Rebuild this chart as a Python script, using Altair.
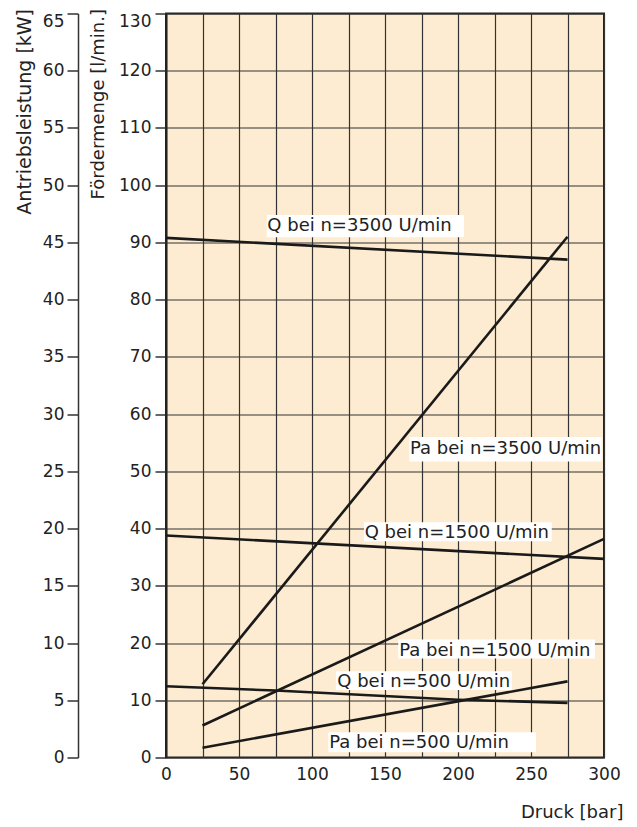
import altair as alt
import pandas as pd

# ---- data ----
# Fördermenge Q [l/min] vs Druck [bar]
q3500_p = [0, 275]
q3500_v = [90.8, 87.0]
q1500_p = [0, 300]
q1500_v = [38.8, 34.7]
q500_p = [0, 75, 200, 275]
q500_v = [12.45, 11.7, 10.1, 9.55]

# Antriebsleistung Pa [kW] vs Druck [bar]
pa3500_p = [25, 275]
pa3500_v = [6.4, 45.5]
pa1500_p = [25, 300]
pa1500_v = [2.8, 19.1]
pa500_p = [25, 275]
pa500_v = [0.85, 6.65]

# curve labels (anchor in data units: Druck, Fördermenge)
label_text = ["Q bei n=3500 U/min", "Pa bei n=3500 U/min", "Q bei n=1500 U/min",
              "Pa bei n=1500 U/min", "Q bei n=500 U/min", "Pa bei n=500 U/min"]
label_p = [69.4, 167.1, 136.1, 159.8, 117.3, 111.8]
label_q = [92.07, 53.08, 38.36, 17.69, 12.34, 1.6]
# white label boxes (data units)
box_p0 = [69.0, 166.6, 135.6, 159.1, 116.4, 111.2]
box_p1 = [204.1, 298.4, 264.2, 293.8, 236.8, 253.4]
box_q0 = [90.9, 51.7, 37.8, 17.3, 11.8, 0.93]
box_q1 = [94.8, 56.0, 41.1, 20.6, 15.07, 4.4]

x_ticks = list(range(0, 301, 25))
q_ticks = list(range(0, 131, 10))
kw_ticks = list(range(0, 66, 5))

# ---- tables ----
def long(name, ps, vs):
    return pd.DataFrame({"p": ps, "v": vs, "s": name})

q_df = pd.concat([long("q3500", q3500_p, q3500_v),
                  long("q1500", q1500_p, q1500_v),
                  long("q500", q500_p, q500_v)])
pa_df = pd.concat([long("pa3500", pa3500_p, pa3500_v),
                   long("pa1500", pa1500_p, pa1500_v),
                   long("pa500", pa500_p, pa500_v)])
lab_df = pd.DataFrame({"t": label_text, "p": label_p, "v": label_q})
box_df = pd.DataFrame({"p0": box_p0, "p1": box_p1, "v0": box_q0, "v1": box_q1})

INK = "#222222"
FONT = "DejaVu Sans"

x_scale = alt.Scale(domain=[0, 300], nice=False, zero=False)
x_axis = alt.Axis(
    values=x_ticks, grid=True, gridColor="#333333", gridWidth=1.2,
    ticks=False, labelPadding=9, domain=False, labelFlush=False,
    labelExpr="datum.value % 50 == 0 ? datum.label : ''",
    title="Druck [bar]", titleAlign="right", titleBaseline="bottom",
    titleX=457, titleY=64, titleFontSize=18,
)

def X(field):
    return alt.X(field, type="quantitative", scale=x_scale, axis=x_axis, title="Druck [bar]")

q_scale = alt.Scale(domain=[0, 130], nice=False, zero=True)
q_axis = alt.Axis(
    values=q_ticks, grid=True, gridColor="#333333", gridWidth=1.2,
    tickSize=11, tickWidth=1.5, tickColor="#333333", labelPadding=4,
    domainColor=INK, domainWidth=2, labelFlush=False,
    labelBaseline={"condition": {"test": "datum.value == 130", "value": "top"}, "value": "middle"},
    title="Fördermenge [l/min.]", titleAngle=270, titleAlign="right",
    titleBaseline="top", titleX=-77, titleY=-5, titleFontSize=18,
)

def YQ(field):
    return alt.Y(field, type="quantitative", scale=q_scale, axis=q_axis, title="Fördermenge [l/min.]")

kw_scale = alt.Scale(domain=[0, 65], nice=False, zero=True)
kw_axis = alt.Axis(
    orient="left", offset=88, values=kw_ticks, grid=False,
    tickSize=11, tickWidth=1.5, tickColor="#333333", labelPadding=3,
    domainColor="#333333", domainWidth=1.5, labelFlush=False,
    labelBaseline={"condition": {"test": "datum.value == 65", "value": "top"}, "value": "middle"},
    title="Antriebsleistung [kW]", titleAngle=270, titleAlign="right",
    titleBaseline="top", titleX=-63, titleY=-5, titleFontSize=19,
)

q_lines = alt.Chart(q_df).mark_line(color="#1a1a1a", strokeWidth=2.6).encode(
    x=X("p"), y=YQ("v"), detail="s:N"
)
boxes = alt.Chart(box_df).mark_rect(color="white").encode(
    x=X("p0"), x2="p1", y=YQ("v0"), y2="v1"
)
texts = alt.Chart(lab_df).mark_text(
    align="left", baseline="alphabetic", font=FONT, fontSize=18, color=INK
).encode(x=X("p"), y=YQ("v"), text="t:N")

q_layer = alt.layer(q_lines, boxes, texts)

pa_lines = alt.Chart(pa_df).mark_line(color="#1a1a1a", strokeWidth=2.6).encode(
    x=X("p"),
    y=alt.Y("v", type="quantitative", scale=kw_scale, axis=kw_axis, title="Antriebsleistung [kW]"),
    detail="s:N",
)

chart = alt.layer(q_layer, pa_lines).resolve_scale(y="independent").properties(
    width=438, height=744,
    autosize="none",
    padding={"left": 158, "top": 5.5, "right": 25, "bottom": 66},
).configure_view(
    fill="#fdecd1", stroke=INK, strokeWidth=2
).configure_axis(
    labelFont=FONT, labelFontSize=17, labelColor=INK,
    titleFont=FONT, titleFontWeight="normal", titleColor=INK,
)

chart.save("out.html", embed_options={"renderer": "svg", "actions": False})
